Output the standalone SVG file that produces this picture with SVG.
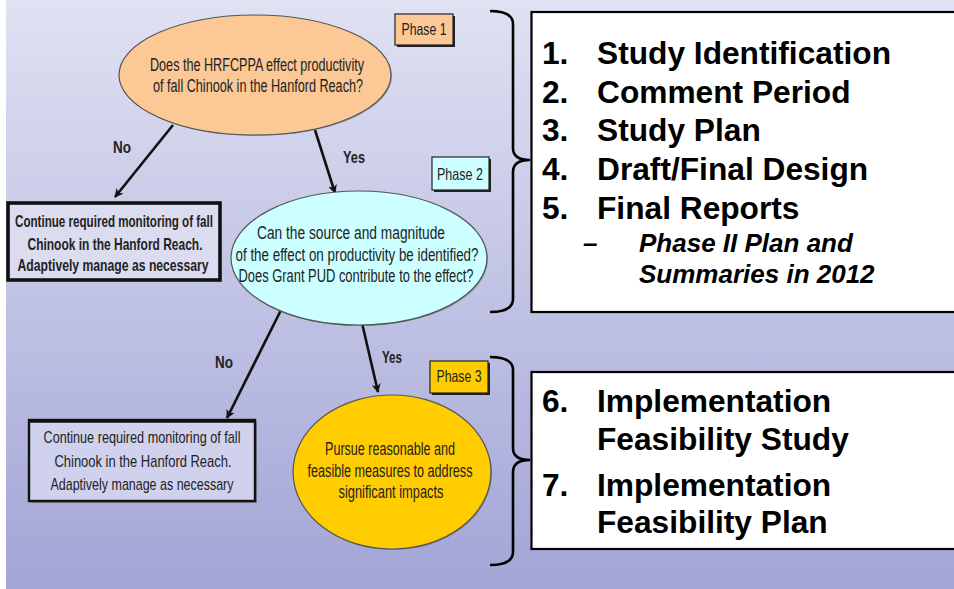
<svg xmlns="http://www.w3.org/2000/svg" width="954" height="589" viewBox="0 0 954 589">
<defs>
<linearGradient id="bg" x1="0" y1="0" x2="0" y2="1">
<stop offset="0" stop-color="#e0e1f2"/>
<stop offset="1" stop-color="#a2a5d6"/>
</linearGradient>
<marker id="ah" viewBox="0 0 10 10" refX="9" refY="5" markerWidth="9" markerHeight="9" markerUnits="userSpaceOnUse" orient="auto">
<path d="M0,0 L10,5 L0,10 L3,5 z" fill="#111"/>
</marker>
</defs>
<style>
.flow{font-family:"Liberation Sans Narrow","Liberation Sans",Arial,sans-serif;fill:#222;}
.q{font-size:17.5px;text-anchor:middle;}
.bx{font-size:17px;text-anchor:middle;}
.bxb{font-size:17px;text-anchor:middle;font-weight:bold;}
.ph{font-size:16.5px;text-anchor:middle;}
.yn{font-size:16px;text-anchor:middle;font-weight:bold;}
.list{font-family:"Liberation Sans",Arial,sans-serif;font-weight:bold;font-size:31.7px;fill:#000;}
.sub{font-family:"Liberation Sans",Arial,sans-serif;font-weight:bold;font-style:italic;font-size:26px;fill:#000;}
.conn{stroke:#111;stroke-width:2.6;fill:none;marker-end:url(#ah);}
.brace{stroke:#000;stroke-width:2.6;fill:none;}
.panel{fill:#fff;stroke:#000;stroke-width:2.2;}
</style>
<rect x="0" y="0" width="954" height="589" fill="#fff"/>
<rect x="6" y="0" width="948" height="589" fill="url(#bg)"/>

<g id="connectors">
<line class="conn" x1="173" y1="125" x2="115" y2="197"/>
<line class="conn" x1="315" y1="130" x2="335" y2="193"/>
<line class="conn" x1="281" y1="310" x2="227" y2="418"/>
<line class="conn" x1="362" y1="323" x2="378" y2="392"/>
<text class="flow yn" x="122" y="153" textLength="18" lengthAdjust="spacingAndGlyphs">No</text>
<text class="flow yn" x="354" y="163" textLength="22" lengthAdjust="spacingAndGlyphs">Yes</text>
<text class="flow yn" x="224" y="368" textLength="18" lengthAdjust="spacingAndGlyphs">No</text>
<text class="flow yn" x="392" y="363" textLength="20" lengthAdjust="spacingAndGlyphs">Yes</text>
</g>

<g id="q1">
<ellipse cx="256" cy="76" rx="136" ry="60" fill="#555" opacity="0.5"/>
<ellipse cx="255" cy="75" rx="136" ry="60" fill="#fbc896" stroke="#555" stroke-width="1.2"/>
<text class="flow q" x="257" y="71" textLength="214" lengthAdjust="spacingAndGlyphs">Does the HRFCPPA effect productivity</text>
<text class="flow q" x="258" y="92" textLength="210" lengthAdjust="spacingAndGlyphs">of fall Chinook in the Hanford Reach?</text>
</g>

<g id="phase1">
<rect x="397" y="16" width="58" height="31" fill="#222"/>
<rect x="395" y="14" width="58" height="31" fill="#fbc896" stroke="#222" stroke-width="1.2"/>
<text class="flow ph" x="424" y="35" textLength="45" lengthAdjust="spacingAndGlyphs">Phase 1</text>
</g>

<g id="phase2">
<rect x="434" y="159" width="57" height="33" fill="#222"/>
<rect x="432" y="157" width="57" height="33" fill="#ccffff" stroke="#222" stroke-width="1.2"/>
<text class="flow ph" x="460" y="180" textLength="46" lengthAdjust="spacingAndGlyphs">Phase 2</text>
</g>

<g id="no1">
<rect x="8" y="203" width="212" height="77" fill="#dcdcf0" stroke="#111" stroke-width="3.6"/>
<text class="flow bxb" x="114" y="227" textLength="198" lengthAdjust="spacingAndGlyphs">Continue required monitoring of fall</text>
<text class="flow bxb" x="115" y="250" textLength="175" lengthAdjust="spacingAndGlyphs">Chinook in the Hanford Reach.</text>
<text class="flow bxb" x="113" y="271" textLength="191" lengthAdjust="spacingAndGlyphs">Adaptively manage as necessary</text>
</g>

<g id="q2">
<ellipse cx="360" cy="259" rx="128" ry="67" fill="#555" opacity="0.5"/>
<ellipse cx="359" cy="258" rx="128" ry="67" fill="#ccffff" stroke="#555" stroke-width="1.2"/>
<text class="flow q" x="351" y="239" textLength="188" lengthAdjust="spacingAndGlyphs">Can the source and magnitude</text>
<text class="flow q" x="357" y="261" textLength="243" lengthAdjust="spacingAndGlyphs">of the effect on productivity be identified?</text>
<text class="flow q" x="356" y="282" textLength="235" lengthAdjust="spacingAndGlyphs">Does Grant PUD contribute to the effect?</text>
</g>

<g id="no2">
<rect x="31" y="422" width="226" height="81" fill="#666" opacity="0.6"/>
<rect x="29" y="420" width="226" height="81" fill="#d0d1ec" stroke="#111" stroke-width="2.4"/>
<line x1="28" y1="421" x2="256" y2="421" stroke="#111" stroke-width="3.6"/>
<text class="flow bx" x="142" y="443" textLength="197" lengthAdjust="spacingAndGlyphs">Continue required monitoring of fall</text>
<text class="flow bx" x="143" y="467" textLength="177" lengthAdjust="spacingAndGlyphs">Chinook in the Hanford Reach.</text>
<text class="flow bx" x="142" y="490" textLength="183" lengthAdjust="spacingAndGlyphs">Adaptively manage as necessary</text>
</g>

<g id="phase3">
<rect x="432" y="363" width="58" height="32" fill="#222"/>
<rect x="430" y="361" width="58" height="32" fill="#ffcc00" stroke="#222" stroke-width="1.2"/>
<text class="flow ph" x="459" y="382" textLength="45" lengthAdjust="spacingAndGlyphs">Phase 3</text>
</g>

<g id="act">
<ellipse cx="393" cy="473" rx="99" ry="77" fill="#555" opacity="0.5"/>
<ellipse cx="392" cy="472" rx="99" ry="77" fill="#ffcc00" stroke="#555" stroke-width="1.2"/>
<text class="flow q" x="390" y="455" textLength="130" lengthAdjust="spacingAndGlyphs">Pursue reasonable and</text>
<text class="flow q" x="390" y="477" textLength="165" lengthAdjust="spacingAndGlyphs">feasible measures to address</text>
<text class="flow q" x="391" y="498" textLength="105" lengthAdjust="spacingAndGlyphs">significant impacts</text>
</g>

<g id="brace1">
<path class="brace" d="M490,11 Q513,11 513,24 L513,148 Q513,160 530,160 Q513,160 513,172 L513,299 Q513,312 490,312"/>
</g>
<g id="brace2">
<path class="brace" d="M490,357 Q513,357 513,370 L513,448 Q513,460 530,460 Q513,460 513,472 L513,552 Q513,565 490,565"/>
</g>

<g id="steps1">
<rect class="panel" x="531.5" y="12" width="430" height="300"/>
<text class="list" x="542" y="64">1.</text>
<text class="list" x="597" y="64">Study Identification</text>
<text class="list" x="542" y="103">2.</text>
<text class="list" x="597" y="103">Comment Period</text>
<text class="list" x="542" y="141">3.</text>
<text class="list" x="597" y="141">Study Plan</text>
<text class="list" x="542" y="180">4.</text>
<text class="list" x="597" y="180">Draft/Final Design</text>
<text class="list" x="542" y="219">5.</text>
<text class="list" x="597" y="219">Final Reports</text>
<text class="sub" x="583" y="252">–</text>
<text class="sub" x="639" y="252">Phase II Plan and</text>
<text class="sub" x="639" y="283">Summaries in 2012</text>
</g>

<g id="steps2">
<rect class="panel" x="531.5" y="372" width="430" height="177"/>
<text class="list" x="542" y="412">6.</text>
<text class="list" x="597" y="412">Implementation</text>
<text class="list" x="597" y="450">Feasibility Study</text>
<text class="list" x="542" y="496">7.</text>
<text class="list" x="597" y="496">Implementation</text>
<text class="list" x="597" y="533">Feasibility Plan</text>
</g>
</svg>
